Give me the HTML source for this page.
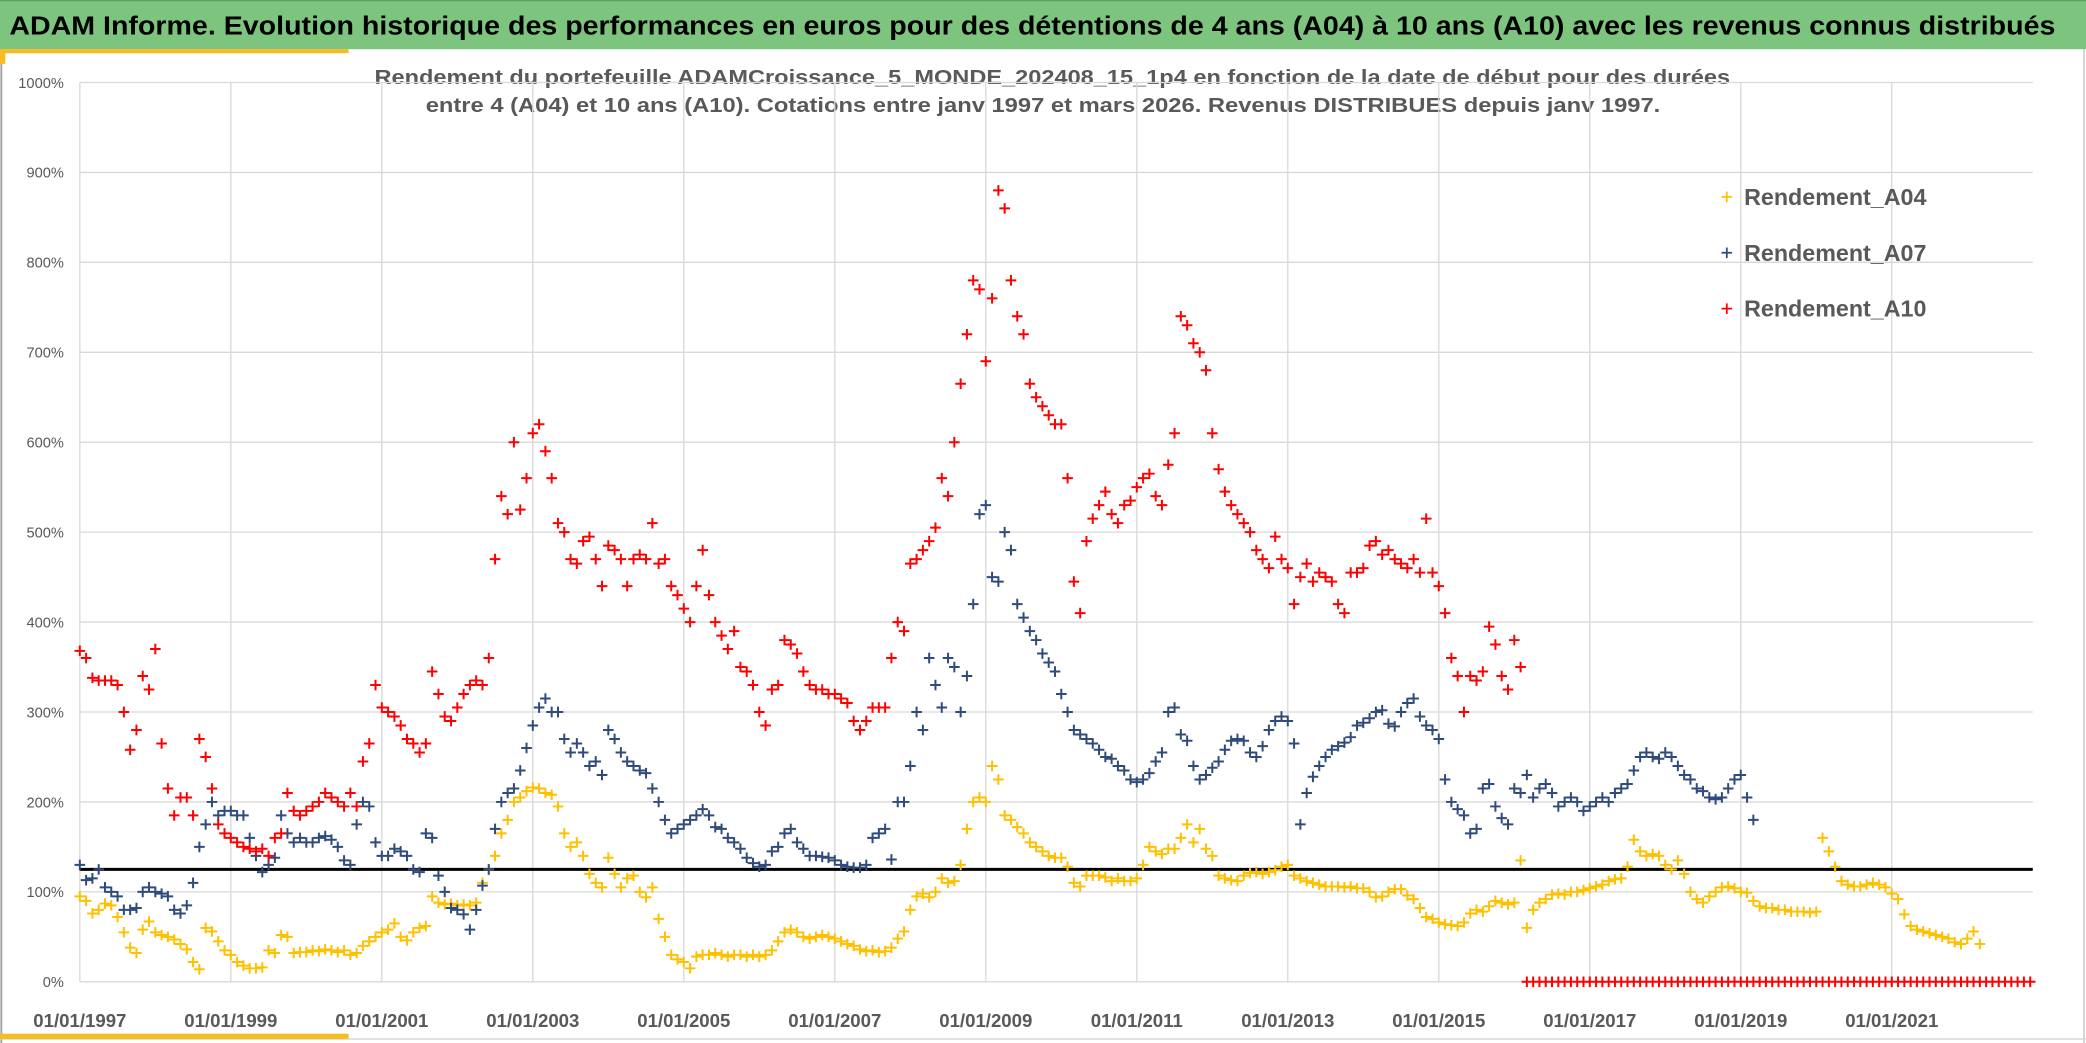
<!DOCTYPE html>
<html><head><meta charset="utf-8"><style>
html,body{margin:0;padding:0;background:#fff;}
svg{display:block;}
text{font-family:"Liberation Sans",sans-serif;}
</style></head>
<body>
<svg id="chart" width="2086" height="1043" viewBox="0 0 1568 784" preserveAspectRatio="none" xmlns="http://www.w3.org/2000/svg">
  <rect x="0" y="0" width="1568" height="784" fill="#ffffff"/>
  <rect x="0" y="0" width="1568" height="37" fill="#7dc57f"/>
  <line x1="0" y1="0.5" x2="1568" y2="0.5" stroke="#5f9f62" stroke-width="1"/>
  <text x="7" y="26" font-size="19.5" font-weight="bold" fill="#000" textLength="1538" lengthAdjust="spacingAndGlyphs">ADAM Informe. Evolution historique des performances en euros pour des détentions de 4 ans (A04) à 10 ans (A10) avec les revenus connus distribués</text>
  <line x1="1" y1="37" x2="1" y2="784" stroke="#a6a6a6" stroke-width="1.5"/>
  <line x1="1566.5" y1="37" x2="1566.5" y2="784" stroke="#c0c0c0" stroke-width="1"/>
  <line x1="0" y1="781" x2="1568" y2="781" stroke="#d0d0d0" stroke-width="1"/>
  <rect x="0" y="37" width="262" height="3" fill="#f5bd1f"/>
  <rect x="0" y="37" width="4" height="11" fill="#f5bd1f"/>
  <rect x="0" y="777" width="262" height="4" fill="#f5bd1f"/>
  <text x="791" y="63" text-anchor="middle" font-size="15" font-weight="bold" fill="#595959" textLength="1019" lengthAdjust="spacingAndGlyphs">Rendement du portefeuille ADAMCroissance_5_MONDE_202408_15_1p4  en fonction de la date de début pour des durées</text>
  <text x="784" y="84" text-anchor="middle" font-size="15" font-weight="bold" fill="#595959" textLength="928" lengthAdjust="spacingAndGlyphs">entre 4 (A04) et 10 ans (A10). Cotations entre janv 1997 et mars 2026. Revenus DISTRIBUES depuis janv 1997.</text>
  <g id="grid"></g>
  <g id="series"></g>
  <g id="legend"></g>
</svg>
<script>
// ---- data (monthly samples starting Jan 1997, values in %) ----
const yTicks = [0,100,200,300,400,500,600,700,800,900,1000];
const xTickYears = [1997,1999,2001,2003,2005,2007,2009,2011,2013,2015,2017,2019,2021];
const seriesNames = ["Rendement_A04","Rendement_A07","Rendement_A10"];
const threshold = 125;
const a04 = [
95,90,76,80,87,85,72,55,38,32,58,67,
55,52,50,47,42,36,22,14,60,56,45,35,
30,22,18,15,15,16,35,32,52,50,32,33,
33,35,34,36,35,33,35,30,32,40,45,50,
55,58,65,50,46,55,60,62,95,88,86,87,
85,86,85,88,110,125,140,165,180,200,205,212,
216,215,210,208,195,165,150,155,140,120,110,105,
138,120,105,115,118,100,94,105,70,50,30,25,
22,15,28,30,30,32,30,28,30,30,28,30,
28,30,35,45,55,58,55,50,48,50,52,50,
48,45,42,40,36,34,35,33,34,38,48,56,
80,95,98,94,100,115,110,112,130,170,200,205,
200,240,225,185,180,172,165,155,150,145,140,138,
138,128,110,106,118,118,118,116,112,115,112,112,
115,130,150,145,142,148,148,160,175,155,170,148,
140,118,115,113,112,118,121,122,120,122,124,128,
130,118,115,112,110,108,106,106,106,105,106,104,
104,100,94,95,100,103,103,96,92,82,72,70,
66,64,63,62,66,76,80,78,84,90,88,86,
88,135,60,80,88,92,97,98,97,100,100,102,
104,106,108,112,114,115,128,158,145,140,142,140,
130,125,135,120,100,92,88,95,100,105,106,104,
100,99,90,84,82,82,80,80,78,78,78,77,
78,160,145,128,112,108,106,106,108,110,108,105,
98,92,75,62,58,56,54,52,50,48,44,42,
48,56,42];
const a07 = [
130,113,115,125,105,100,95,80,80,82,100,105,
100,98,95,80,76,85,110,150,175,200,185,190,
190,185,185,160,140,122,130,138,185,165,155,160,
155,155,160,162,158,150,135,130,175,200,195,155,
140,140,148,145,140,125,122,165,160,118,100,82,
80,75,58,80,107,125,170,200,210,215,235,260,
285,305,315,300,300,270,255,265,255,240,245,230,
280,270,255,245,240,235,232,215,200,180,165,170,
175,180,185,192,185,172,170,160,155,148,138,132,
128,130,145,150,165,170,155,148,140,140,139,138,
135,130,128,127,127,130,160,165,170,136,200,200,
240,300,280,360,330,305,360,350,300,340,420,520,
530,450,445,500,480,420,405,390,380,365,355,345,
320,300,280,275,270,265,258,250,248,240,235,225,
222,225,232,245,255,300,305,275,268,240,225,230,
238,245,258,268,270,268,255,250,262,280,290,295,
290,265,175,210,228,240,250,258,262,266,272,285,
288,293,300,302,287,284,300,310,315,295,285,280,
270,225,200,192,185,165,170,215,220,195,182,175,
215,210,230,205,215,220,210,195,200,205,200,190,
195,200,205,200,210,215,220,235,250,255,250,248,
255,250,240,230,225,215,212,205,203,205,215,225,
230,205,180];
const a10 = [
368,360,338,335,335,335,330,300,258,280,340,325,
370,265,215,185,205,205,185,270,250,215,175,165,
160,155,150,148,145,148,140,160,165,210,190,185,
190,195,200,210,205,200,195,210,195,245,265,330,
305,300,295,285,270,265,255,265,345,320,295,290,
305,320,330,335,330,360,470,540,520,600,525,560,
610,620,590,560,510,500,470,465,490,495,470,440,
485,480,470,440,470,475,470,510,465,470,440,430,
415,400,440,480,430,400,385,370,390,350,345,330,
300,285,325,330,380,375,365,345,330,325,325,320,
320,315,310,290,280,290,305,305,305,360,400,390,
465,470,480,490,505,560,540,600,665,720,780,770,
690,760,880,860,780,740,720,665,650,640,630,620,
620,560,445,410,490,515,530,545,520,510,530,535,
550,560,565,540,530,575,610,740,730,710,700,680,
610,570,545,530,520,510,500,480,470,460,495,470,
460,420,450,465,445,455,450,445,420,410,455,455,
460,485,490,475,480,470,465,460,470,455,515,455,
440,410,360,340,300,340,335,345,395,375,340,325,
380,350,0,0,0,0,0,0,0,0,0,0,
0,0,0,0,0,0,0,0,0,0,0,0,
0,0,0,0,0,0,0,0,0,0,0,0,
0,0,0,0,0,0,0,0,0,0,0,0,
0,0,0,0,0,0,0,0,0,0,0,0,
0,0,0,0,0,0,0,0,0,0,0,0,
0,0,0,0,0,0,0,0,0,0,0];

// ---- layout / axes ----
const NS = "http://www.w3.org/2000/svg";
const PL = 60, PR = 1528, PT = 62, PB = 738;
const T0 = 1997, PXY = 56.75;
function xScale(t){ return PL + (t - T0) * PXY; }
function yScale(v){ return PB - (v / 1000) * (PB - PT); }
function mk(tag, attrs, parent){
  const e = document.createElementNS(NS, tag);
  for (const k in attrs) e.setAttribute(k, attrs[k]);
  parent.appendChild(e);
  return e;
}
const grid = document.getElementById('grid');
yTicks.forEach(v => {
  const y = yScale(v);
  const l = mk('line', {x1:PL, x2:PR, y1:y, y2:y, stroke:'#d9d9d9', 'stroke-width':1}, grid);
  
  
  const t = mk('text', {x:48, y:y+4, 'text-anchor':'end', 'font-size':11, fill:'#595959'}, grid);
  t.textContent = v + '%';
  
  
});
xTickYears.forEach(yr => {
  const x = xScale(yr);
  const l = mk('line', {x1:x, x2:x, y1:PT, y2:PB, stroke:'#d9d9d9', 'stroke-width':1}, grid);
  
  
  const t = mk('text', {x:x, y:772, 'text-anchor':'middle', 'font-size':14, 'font-weight':'bold', fill:'#595959'}, grid);
  t.textContent = '01/01/' + yr;
  
  
});
const thr = mk('line', {x1:PL, x2:PR, y1:yScale(threshold), y2:yScale(threshold), stroke:'#000', 'stroke-width':2.2}, grid);



const colors = ['#ffc000', '#2f4b7c', '#ff0000'];
const seriesData = [a04, a07, a10];
const sg = document.getElementById('series');
function plus(x, y){ return 'M' + (x-4) + ' ' + y + 'h8M' + x + ' ' + (y-4) + 'v8'; }
seriesData.forEach((arr, si) => {
  let d = '';
  arr.forEach((v, i) => {
    d += plus(xScale(T0 + i/12), yScale(v));
  });
  const p = mk('path', {d:d, stroke:colors[si], 'stroke-width':1.5, fill:'none'}, sg);
  
  
});
const lg = document.getElementById('legend');
seriesNames.forEach((n, i) => {
  const y = 148 + i * 42;
  const m = mk('path', {d:plus(1298, y), stroke:colors[i], 'stroke-width':1.3, fill:'none'}, lg);
  
  
  const t = mk('text', {x:1311, y:y+6, 'font-size':17.5, 'font-weight':'bold', fill:'#595959'}, lg);
  t.textContent = n;
  
  
});
</script>
</body></html>
